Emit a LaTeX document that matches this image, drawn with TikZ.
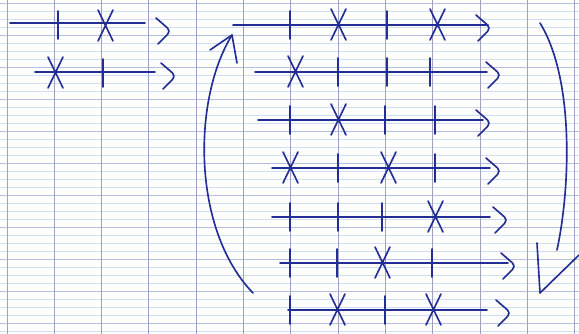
\documentclass[tikz,border=0pt]{standalone}
\usepackage{xcolor}
\usepackage{tikz}
\usetikzlibrary{calc}

\definecolor{pen}{RGB}{35,45,150}
\definecolor{ruling}{RGB}{208,222,242}
\definecolor{rulingdark}{RGB}{180,192,222}
\definecolor{margin}{RGB}{160,160,190}

\tikzset{
  ink/.style={pen, line width=1.4pt, line cap=round, line join=round},
  tk/.pic={\draw[ink] (0,-14) -- (0,14);},
  cr/.pic={\draw[ink] (-7,-16) -- (8,15) (8,-16) -- (-7,15);},
  chev/.pic={\draw[ink, rounded corners=4pt] (-14,-12) -- (1,1) -- (-12,14);},
}

\begin{document}
\begin{tikzpicture}[x=0.03cm, y=-0.03cm]
  \useasboundingbox (0,0) rectangle (579,334);
  \fill[white] (0,0) rectangle (579,334);
  % papier
  \foreach \k in {0,...,41} {
    \draw[ruling, line width=0.5pt] (0,3+8*\k) -- (579,3+8*\k);
  }
  \foreach \k in {0,4,...,40} {
    \draw[rulingdark, line width=0.5pt] (0,3+8*\k) -- (579,3+8*\k);
  }
  \foreach \k in {0,...,12} {
    \draw[margin, line width=0.8pt] (7+47.3*\k,0) -- (7+47.3*\k,334);
  }

  % petit schema en haut a gauche
  \draw[ink] (10,23) -- (145,23);
  \draw[ink] (35,72) -- (155,72);
  \pic at (58,25) {tk};
  \pic at (105,26) {cr};
  \pic at (55,73) {cr};
  \pic at (103,73) {tk};
  \pic at (170,30) {chev};
  \pic at (175,75) {chev};

  % grande grille
  \foreach \y/\xa/\xb/\xt in {25/233/488/490, 72/255/487/500, 120/258/483/490,
      168/272/490/500, 217/272/490/507, 263/280/508/515, 310/288/487/510} {
    \draw[ink] (\xa,\y) -- (\xb,\y);
    \pic at (\xt,\y+2) {chev};
  }
  \foreach \x/\y in {290/25, 387/25, 338/72, 387/72, 430/72, 290/120, 385/120, 435/120,
      338/168, 435/168, 290/217, 338/217, 382/217, 290/263, 337/263, 432/263,
      290/310, 385/310} {
    \pic at (\x,\y) {tk};
  }
  \foreach \x/\y in {338/25, 437/25, 295/72, 338/120, 290/168, 388/168, 435/217,
      382/263, 337/310, 433/310} {
    \pic at (\x,\y) {cr};
  }

  % fleches courbes
  \draw[ink] (253,293) .. controls (192,230) and (192,100) .. (232,35);
  \draw[ink] (210,50) -- (232,35) -- (237,63);
  \draw[ink] (540,23) .. controls (575,80) and (570,190) .. (557,250);
  \draw[ink] (537,243) -- (540,293) -- (579,255);
\end{tikzpicture}
\end{document}
